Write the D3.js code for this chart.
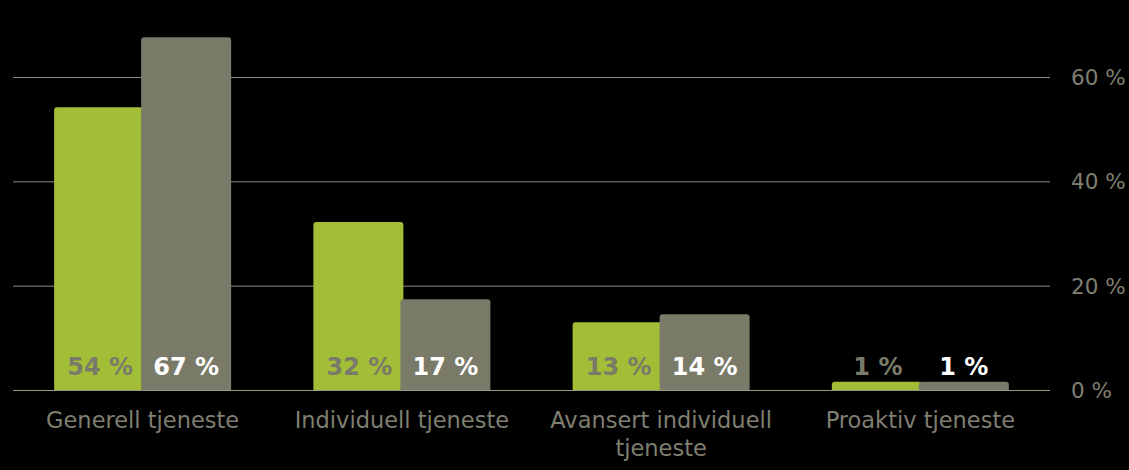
<!DOCTYPE html>
<html><head><meta charset="utf-8">
<script src="https://cdn.jsdelivr.net/npm/d3@7"></script>
<style>html,body{margin:0;padding:0;background:#000;}svg{display:block;}</style>
</head><body>
<script>
const categories = ["Generell tjeneste", "Individuell tjeneste", "Avansert individuell tjeneste", "Proaktiv tjeneste"];
const categoryLines = [["Generell tjeneste"], ["Individuell tjeneste"], ["Avansert individuell", "tjeneste"], ["Proaktiv tjeneste"]];
const seriesNames = ["Serie 1", "Serie 2"];
const series1 = [54.2, 32.2, 13.0, 1.6];
const series2 = [67.6, 17.4, 14.5, 1.6];
const labels1 = [54, 32, 13, 1];
const labels2 = [67, 17, 14, 1];
const yTicks = [0, 20, 40, 60];

const W = 1129, H = 470;
const svg = d3.select("body").append("svg").attr("width", W).attr("height", H);
svg.append("rect").attr("width", W).attr("height", H).attr("fill", "#000");

const x0 = d3.scaleBand().domain(categories).range([13, 1050]).padding(0);
const x1 = d3.scaleBand().domain(seriesNames).range([-88.5, 85.5]).padding(0);
const y = d3.scaleLinear().domain([0, 60]).range([390, 77]);

const font = "Verdana, 'DejaVu Sans', sans-serif";

// grid lines
svg.append("g").selectAll("line").data(yTicks.filter(d => d > 0)).join("line")
  .attr("x1", 13).attr("x2", 1050)
  .attr("y1", d => y(d) + 0.5).attr("y2", d => y(d) + 0.5)
  .attr("stroke", "#8a8a80").attr("stroke-width", 1);

// right axis
const yAxis = d3.axisRight(y).tickValues(yTicks).tickSize(0).tickPadding(0).tickFormat(d => d + " %");
const ga = svg.append("g").attr("transform", "translate(1071,0)").call(yAxis);
ga.select(".domain").remove();
ga.selectAll("text").attr("fill", "#7f7f70").style("font-family", font).style("font-size", "21.5px").attr("dy", "0.35em");

const colors = ["#a2be37", "#7a7a68"];
const labelColors = ["#7a7a68", "#ffffff"];
const data = categories.map((c, i) => ({c, vals: [series1[i], series2[i]], labs: [labels1[i], labels2[i]]}));

function topRounded(x, y0, w, h, r) {
  r = Math.min(r, h, w / 2);
  return `M${x},${y0 + h}V${y0 + r}Q${x},${y0} ${x + r},${y0}H${x + w - r}Q${x + w},${y0} ${x + w},${y0 + r}V${y0 + h}Z`;
}

const groups = svg.append("g").selectAll("g").data(data).join("g")
  .attr("transform", d => `translate(${x0(d.c) + x0.bandwidth() / 2},0)`);

const barW = x1.bandwidth() + 3;
seriesNames.forEach((s, si) => {
  groups.append("path")
    .attr("d", d => topRounded(x1(s), y(d.vals[si]), barW, y(0) - y(d.vals[si]), 3))
    .attr("fill", colors[si]);
});
seriesNames.forEach((s, si) => {
  groups.append("text")
    .attr("x", x1(s) + barW / 2 + (si === 0 ? 1 : 0))
    .attr("y", 375)
    .attr("text-anchor", "middle")
    .attr("fill", labelColors[si])
    .style("font-family", font).style("font-size", "24px").style("font-weight", "bold")
    .text(d => d.labs[si] + " %");
});

// baseline
svg.append("line").attr("x1", 13).attr("x2", 1050).attr("y1", y(0) + 0.5).attr("y2", y(0) + 0.5)
  .attr("stroke", "#9a9a84").attr("stroke-width", 1);

// category labels
svg.append("g").selectAll("text").data(categories).join("text")
  .attr("x", d => x0(d) + x0.bandwidth() / 2)
  .attr("y", 428)
  .attr("text-anchor", "middle")
  .attr("fill", "#7f7f70")
  .style("font-family", font).style("font-size", "22.5px")
  .each(function(d, i) {
    const t = d3.select(this);
    categoryLines[i].forEach((ln, li) => {
      t.append("tspan").attr("x", x0(d) + x0.bandwidth() / 2).attr("dy", li === 0 ? 0 : 28).text(ln);
    });
  });
</script>
</body></html>
